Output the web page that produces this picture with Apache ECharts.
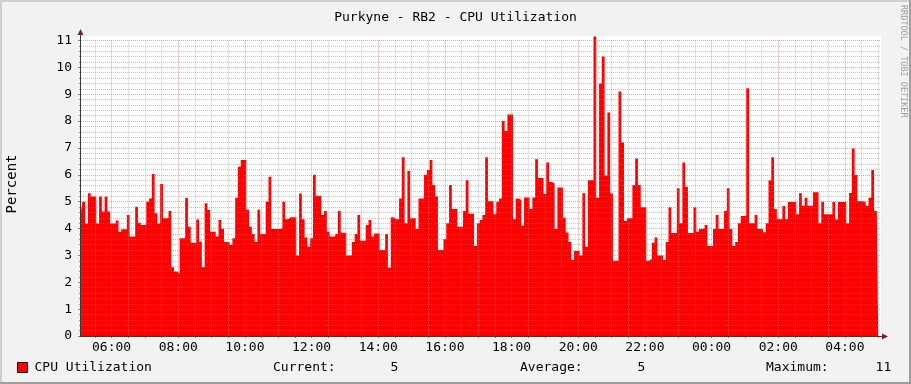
<!DOCTYPE html>
<html><head><meta charset="utf-8">
<script src="https://cdn.jsdelivr.net/npm/echarts@6/dist/echarts.min.js"></script>
<style>html,body{margin:0;padding:0;background:#F2F2F2}#c{width:911px;height:384px}</style>
</head><body><div id="c"></div>
<script>
// ---------------- data ----------------
const titleText = 'Purkyne - RB2 - CPU Utilization';
const seriesName = 'CPU Utilization';
const yAxisName = 'Percent';
const watermark = 'RRDTOOL / TOBI OETIKER';
const startMinute = 5 * 60 + 5;   // 05:05
const stepMinutes = 5;
const slotCount = 289;
const xTickLabels = ['06:00','08:00','10:00','12:00','14:00','16:00','18:00','20:00','22:00','00:00','02:00','04:00'];
const yMin = 0, yMax = 11, yStep = 1;
const cpuValues = [
 4.63,5.0,4.19,5.31,5.19,5.19,4.19,5.19,4.63,5.19,
 4.63,4.19,4.19,4.3,3.88,3.97,3.97,4.5,3.7,3.7,
 4.81,4.22,4.13,4.13,5.0,5.12,6.03,4.57,4.19,5.66,
 4.38,4.38,4.65,2.56,2.4,2.33,3.64,3.64,5.14,4.07,
 3.47,3.47,4.34,3.51,2.56,4.94,4.69,3.88,3.88,3.7,
 4.32,3.98,3.5,3.5,3.39,3.64,5.15,6.3,6.55,6.55,
 4.7,4.07,3.8,3.5,4.7,3.8,3.8,5.0,5.93,3.98,
 3.98,3.98,4.0,5.0,4.35,4.42,4.42,4.42,3.0,5.3,
 4.35,3.67,3.32,3.64,6.0,5.22,5.22,4.5,4.65,3.88,
 3.7,3.7,3.8,4.65,3.84,3.84,3.0,3.0,3.5,3.8,
 4.5,3.55,3.55,4.13,4.32,3.7,3.82,3.82,3.2,3.2,
 3.8,2.54,4.42,4.35,4.35,5.12,6.65,4.2,6.14,4.38,
 4.38,3.98,5.12,5.12,6.0,6.18,6.55,5.62,5.19,3.2,
 3.2,3.6,4.2,5.62,4.73,4.73,4.07,4.07,4.65,5.8,
 4.55,4.55,3.35,4.2,4.32,4.5,6.65,5.02,5.02,4.53,
 5.0,5.12,8.0,7.63,8.25,8.25,4.35,5.12,5.06,4.1,
 5.16,5.16,4.73,5.16,6.58,5.88,5.88,5.29,6.46,5.73,
 5.68,3.98,5.53,5.53,4.4,3.85,3.5,2.83,3.16,3.16,
 3.0,5.31,3.32,5.8,5.8,11.15,5.15,9.4,10.4,5.97,
 8.32,5.3,2.8,2.8,9.1,7.2,4.28,4.38,4.38,5.62,
 6.61,5.62,4.79,4.79,2.8,2.87,3.47,3.67,3.0,3.0,
 2.83,3.5,4.79,3.83,3.83,5.5,4.2,6.46,5.56,3.83,
 3.83,4.79,3.88,3.98,4.0,4.13,3.35,3.35,3.98,4.5,
 3.98,3.98,4.65,5.5,3.98,3.35,3.5,4.2,4.47,4.47,
 9.22,4.2,4.2,4.5,3.98,3.98,3.86,4.2,5.8,6.65,
 4.73,4.35,4.35,4.84,4.35,4.99,4.99,4.99,4.53,5.31,
 4.85,5.15,4.85,4.85,5.35,5.35,4.2,4.99,4.53,4.53,
 4.53,4.99,4.34,4.99,4.99,4.99,4.2,5.32,6.98,5.99,
 5.02,5.02,4.99,4.85,5.15,6.18,4.65,4.65
];

// ---------------- build ----------------
const pad = n => String(n).padStart(2, '0');
const categories = [];
for (let k = 0; k < slotCount; k++) {
  const m = (startMinute + k * stepMinutes) % 1440;
  categories.push(pad(Math.floor(m / 60)) + ':' + pad(m % 60));
}
const isMajor = v => xTickLabels.includes(v);
const isMinor = v => !isMajor(v) && (v.endsWith(':00') || v.endsWith(':30'));

const current = cpuValues[cpuValues.length - 1];
const average = cpuValues.reduce((a, b) => a + b, 0) / cpuValues.length;
const maximum = Math.max(...cpuValues);
const fmt = v => String(Math.round(v)).padStart(8, ' ');

const FONT = '"DejaVu Sans Mono", monospace';
const W = 911, H = 384;
const gridL = 81, gridR = 30, gridT = 40.5, gridB = 48;
const plotR = W - gridR, plotB = H - gridB, canvasTop = 36;
const gridColor = 'rgba(143,143,143,0.5)';
const mgridColor = 'rgba(222,79,79,0.55)';

const chart = echarts.init(document.getElementById('c'), null, {renderer: 'canvas'});
chart.setOption({
  backgroundColor: '#F2F2F2',
  animation: false,
  title: {
    text: titleText, left: 'center', top: 6,
    textStyle: {fontFamily: FONT, fontSize: 13, fontWeight: 'normal', color: '#000'}
  },
  legend: {
    data: [seriesName], left: 17, top: 361, padding: 0,
    itemWidth: 10, itemHeight: 10, icon: 'rect',
    itemStyle: {borderColor: '#000', borderWidth: 1},
    textStyle: {fontFamily: FONT, fontSize: 13, color: '#000', padding: [0, 0, 0, 2]}
  },
  grid: {left: gridL, right: gridR, top: gridT, bottom: gridB, show: true,
         backgroundColor: '#FFFFFF', borderWidth: 0, containLabel: false},
  xAxis: [{
    type: 'category', data: categories, boundaryGap: false, z: 3,
    axisLine: {show: false},
    axisTick: {show: true, length: 2, interval: (i, v) => isMajor(v) || isMinor(v),
               lineStyle: {color: '#888'}},
    axisLabel: {interval: (i, v) => isMajor(v), margin: 5,
                fontFamily: FONT, fontSize: 13, color: '#000'},
    splitLine: {show: true, interval: (i, v) => isMajor(v),
                lineStyle: {color: mgridColor, type: [1, 1], width: 1}}
  }, {
    type: 'category', data: categories, boundaryGap: false, z: 3, position: 'bottom',
    axisLine: {show: false}, axisTick: {show: false}, axisLabel: {show: false},
    splitLine: {show: true, interval: (i, v) => isMinor(v),
                lineStyle: {color: gridColor, type: [1, 1], width: 1}}
  }],
  yAxis: {
    type: 'value', min: yMin, max: yMax, interval: yStep, z: 3,
    axisLine: {show: false},
    axisTick: {show: true, length: 3, lineStyle: {color: '#888'}},
    minorTick: {show: true, splitNumber: 5, length: 2, lineStyle: {color: '#999'}},
    axisLabel: {margin: 9, fontFamily: FONT, fontSize: 13, color: '#000'},
    splitLine: {show: true, lineStyle: {color: mgridColor, type: [1, 1], width: 1}},
    minorSplitLine: {show: true, lineStyle: {color: gridColor, type: [1, 1], width: 1}}
  },
  series: [{
    name: seriesName, type: 'line', data: cpuValues, step: 'middle',
    symbol: 'none', showSymbol: false, clip: false, z: 2,
    color: '#FF0000',
    lineStyle: {width: 0, color: '#FF0000'},
    areaStyle: {color: '#FF0000', opacity: 1}
  }],
  graphic: [
    {type: 'rect', z: 0, silent: true,
     shape: {x: gridL, y: canvasTop, width: plotR - gridL, height: gridT - canvasTop},
     style: {fill: '#FFFFFF'}},
    // frame shades
    {type: 'rect', z: 10, shape: {x: 0, y: 0, width: W, height: 2}, style: {fill: '#CFCFCF'}},
    {type: 'rect', z: 10, shape: {x: 0, y: 0, width: 2, height: H}, style: {fill: '#CFCFCF'}},
    {type: 'rect', z: 10, shape: {x: W - 2, y: 0, width: 2, height: H}, style: {fill: '#9E9E9E'}},
    {type: 'rect', z: 10, shape: {x: 0, y: H - 2, width: W, height: 2}, style: {fill: '#9E9E9E'}},
    // axes
    {type: 'line', z: 10, shape: {x1: gridL - 0.5, y1: plotB + 0.5, x2: gridL - 0.5, y2: 34},
     style: {stroke: '#3a3a3a', lineWidth: 1}},
    {type: 'line', z: 10, shape: {x1: gridL - 1, y1: plotB + 0.5, x2: plotR + 2, y2: plotB + 0.5},
     style: {stroke: '#3a3a3a', lineWidth: 1}},
    {type: 'polygon', z: 11, shape: {points: [[gridL - 0.5, 29], [gridL - 3.5, 35], [gridL + 2.5, 35]]},
     style: {fill: '#801F1F'}},
    {type: 'polygon', z: 11, shape: {points: [[plotR + 7, plotB + 0.5], [plotR + 1, plotB - 2.5], [plotR + 1, plotB + 3.5]]},
     style: {fill: '#801F1F'}},
    // texts
    {type: 'text', z: 10, x: 12, y: 184, rotation: Math.PI / 2,
     style: {text: yAxisName, font: '14px ' + FONT, fill: '#000', align: 'center', verticalAlign: 'middle'}},
    {type: 'text', z: 10, x: 903, y: 5, rotation: -Math.PI / 2,
     style: {text: watermark, font: '8.5px ' + FONT, fill: '#A0A0A0', align: 'left', verticalAlign: 'middle'}},
    {type: 'text', z: 10, x: 273, y: 368,
     style: {text: 'Current:' + fmt(current), font: '13px ' + FONT, fill: '#000', verticalAlign: 'middle'}},
    {type: 'text', z: 10, x: 520, y: 368,
     style: {text: 'Average:' + fmt(average), font: '13px ' + FONT, fill: '#000', verticalAlign: 'middle'}},
    {type: 'text', z: 10, x: 766, y: 368,
     style: {text: 'Maximum:' + fmt(maximum), font: '13px ' + FONT, fill: '#000', verticalAlign: 'middle'}}
  ]
});
</script>
</body></html>
